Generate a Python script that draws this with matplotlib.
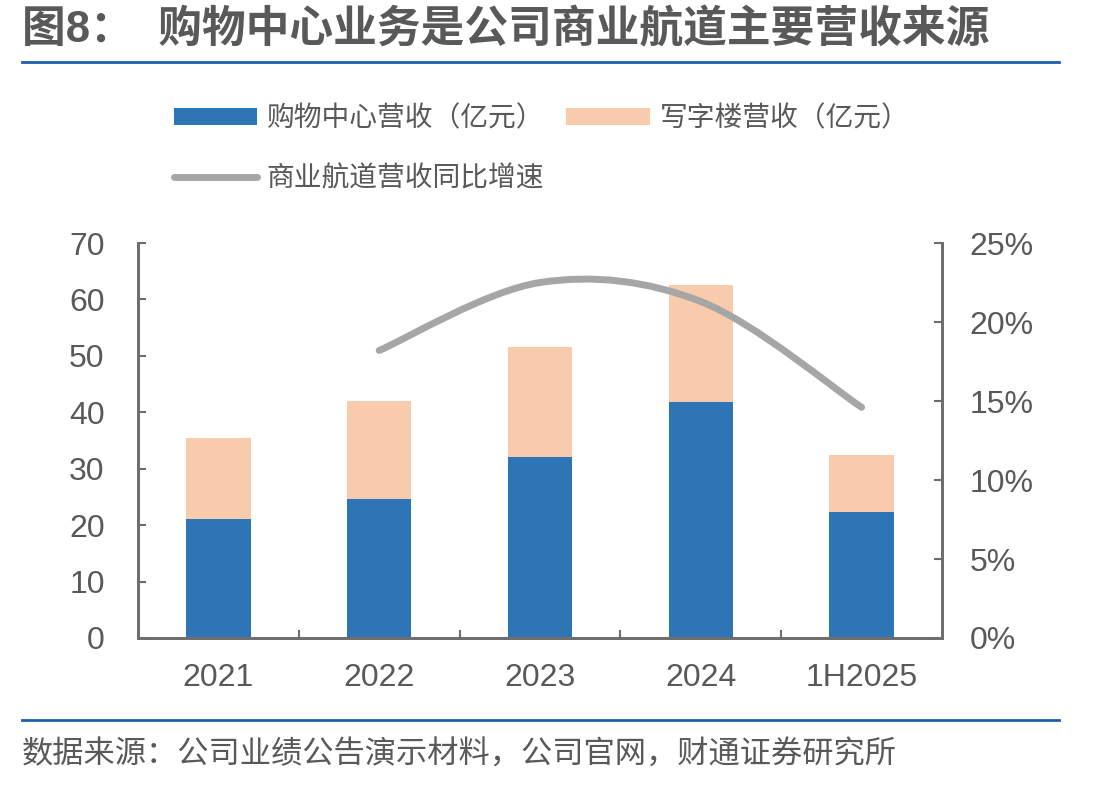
import numpy as np
import matplotlib.pyplot as plt
from matplotlib.path import Path
from matplotlib.patches import PathPatch
from matplotlib.lines import Line2D

plt.rcParams['font.family'] = ['Liberation Sans', 'Noto Sans CJK SC', 'DejaVu Sans']

categories = ['2021', '2022', '2023', '2024', '1H2025']
mall = [21.1, 24.6, 32.1, 41.9, 22.4]
office = [14.3, 17.4, 19.5, 20.7, 10.0]
growth_cats = [1, 2, 3, 4]
growth = [18.2, 22.5, 21.3, 14.6]

blue = '#2e75b6'
peach = '#f8cbad'
grey = '#a6a6a6'
axis_c = '#6e6e6e'
text_c = '#595959'

fig = plt.figure(figsize=(11.09, 7.86), dpi=100)
ax = fig.add_axes([0.1244, 0.1883, 0.725, 0.5025])
ax2 = ax.twinx()

x = np.arange(len(categories))
b1 = ax.bar(x, mall, width=0.4, color=blue, zorder=2)
b2 = ax.bar(x, office, width=0.4, bottom=mall, color=peach, zorder=2)

ax.set_xlim(-0.5, 4.5)
ax.set_ylim(0, 70)
ax.set_yticks(range(0, 71, 10))
ax2.set_ylim(0, 25)
ax2.set_yticks(range(0, 26, 5))
ax2.set_yticklabels([f'{v}%' for v in range(0, 26, 5)])

ax.set_xticks(x)
ax.set_xticklabels(categories)
ax.set_xticks(np.arange(0.5, 4.5, 1), minor=True)
ax.tick_params(axis='x', which='major', length=0, pad=18, labelsize=23, labelcolor=text_c)
ax.tick_params(axis='x', which='minor', direction='in', length=6, width=1.5, color=axis_c)
ax.tick_params(axis='y', direction='in', length=6, width=1.5, color=axis_c,
               labelsize=23, labelcolor=text_c, pad=24)
ax2.tick_params(axis='y', direction='in', length=6, width=1.5, color=axis_c,
                labelsize=23, labelcolor=text_c, pad=20)

for a in (ax, ax2):
    a.spines['top'].set_visible(False)
    for s in ('left', 'right', 'bottom'):
        a.spines[s].set_color(axis_c)
        a.spines[s].set_linewidth(2)

# smooth growth line (bezier through the data points)
pts = np.column_stack([growth_cats, growth]).astype(float)
ext = np.vstack([pts[0], pts, pts[-1]])
verts = [tuple(pts[0])]
codes = [Path.MOVETO]
for i in range(len(pts) - 1):
    p0, p1, p2, p3 = ext[i], ext[i + 1], ext[i + 2], ext[i + 3]
    c1 = p1 + (p2 - p0) / 6
    c2 = p2 - (p3 - p1) / 6
    verts += [tuple(c1), tuple(c2), tuple(p2)]
    codes += [Path.CURVE4] * 3
ax2.add_patch(PathPatch(Path(verts, codes), fill=False, edgecolor=grey,
                        lw=5, capstyle='round', zorder=3))

line_handle = Line2D([], [], color=grey, lw=5, solid_capstyle='round')
fig.legend([b1, line_handle, b2],
           ['购物中心营收（亿元）', '商业航道营收同比增速', '写字楼营收（亿元）'],
           ncol=2, loc='upper left', bbox_to_anchor=(0.134, 0.897),
           frameon=False, fontsize=20, labelcolor=text_c,
           handlelength=3.0, handleheight=0.6, handletextpad=0.35,
           columnspacing=0.8, labelspacing=1.2)

fig.text(0.02, 0.962, '图8：  购物中心业务是公司商业航道主要营收来源', fontsize=31.5,
         fontweight='bold', color=text_c, va='center', ha='left')
fig.add_artist(Line2D([0.02, 0.955], [0.921, 0.921], color='#1f5fb0', lw=2))
fig.add_artist(Line2D([0.02, 0.955], [0.084, 0.084], color='#1f5fb0', lw=2))
fig.text(0.02, 0.039, '数据来源：公司业绩公告演示材料，公司官网，财通证券研究所', fontsize=22.5,
         color=text_c, va='center', ha='left')

fig.savefig('out.png', dpi=100)
